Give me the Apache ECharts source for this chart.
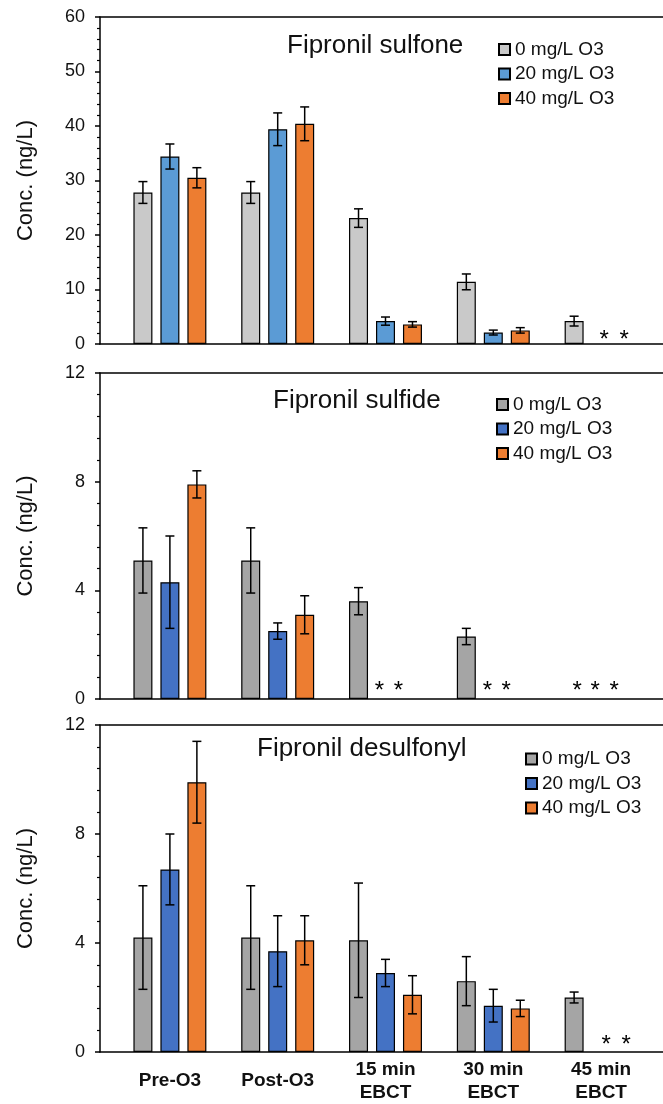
<!DOCTYPE html>
<html>
<head>
<meta charset="utf-8">
<script src="https://cdn.jsdelivr.net/npm/echarts@6/dist/echarts.min.js"></script>
<style>
  html, body { margin: 0; padding: 0; background: #fff; }
  .panel { width: 663px; }
</style>
</head>
<body>
<div id="sulfone" class="panel" style="height: 360px"></div>
<div id="sulfide" class="panel" style="height: 352px"></div>
<div id="desulfonyl" class="panel" style="height: 392px"></div>
<script>
const categories = ["Pre-O3", "Post-O3", "15 min\nEBCT", "30 min\nEBCT", "45 min\nEBCT"];
const seriesNames = ["0 mg/L O3", "20 mg/L O3", "40 mg/L O3"];

// null = not detected, drawn as "*"
const sulfone0 = [27.8, 27.8, 23.1, 11.4, 4.2];
const sulfone20 = [34.4, 39.4, 4.2, 2.1, null];
const sulfone40 = [30.5, 40.4, 3.6, 2.5, null];
const sulfoneErr0 = [2.0, 2.0, 1.7, 1.45, 0.9];
const sulfoneErr20 = [2.3, 3.0, 0.75, 0.45, null];
const sulfoneErr40 = [1.85, 3.1, 0.5, 0.5, null];
const sulfoneTicks = [0, 10, 20, 30, 40, 50, 60];

const sulfide0 = [5.1, 5.1, 3.6, 2.3, null];
const sulfide20 = [4.3, 2.5, null, null, null];
const sulfide40 = [7.9, 3.1, null, null, null];
const sulfideErr0 = [1.2, 1.2, 0.5, 0.3, null];
const sulfideErr20 = [1.7, 0.3, null, null, null];
const sulfideErr40 = [0.5, 0.7, null, null, null];
const sulfideTicks = [0, 4, 8, 12];

const desulfonyl0 = [4.2, 4.2, 4.1, 2.6, 2.0];
const desulfonyl20 = [6.7, 3.7, 2.9, 1.7, null];
const desulfonyl40 = [9.9, 4.1, 2.1, 1.6, null];
const desulfonylErr0 = [1.9, 1.9, 2.1, 0.9, 0.2];
const desulfonylErr20 = [1.3, 1.3, 0.5, 0.6, null];
const desulfonylErr40 = [1.5, 0.9, 0.7, 0.3, null];
const desulfonylTicks = [0, 4, 8, 12];

const fontFamily = '"Liberation Sans", Arial, sans-serif';
const textColor = "#111";
const barWidth = 19;
const barGap = 0.42;

const errorSeries = (values, errs, k) => {
  const shift = (k - 1) * barWidth * (1 + barGap);
  return {
    type: "custom",
    xAxisIndex: 0,
    yAxisIndex: 0,
    silent: true,
    z: 5,
    encode: { x: 0, y: [1, 2] },
    data: values
      .map((v, i) => (v == null ? null : [i, v - errs[i], v + errs[i]]))
      .filter(Boolean),
    renderItem: (params, api) => {
      const lo = api.coord([api.value(0), api.value(1)]);
      const hi = api.coord([api.value(0), api.value(2)]);
      const x = lo[0] + shift;
      const cap = 4.5;
      const style = { stroke: "#000", lineWidth: 1.5 };
      return {
        type: "group",
        children: [
          { type: "line", shape: { x1: x, y1: hi[1], x2: x, y2: lo[1] }, style },
          { type: "line", shape: { x1: x - cap, y1: hi[1], x2: x + cap, y2: hi[1] }, style },
          { type: "line", shape: { x1: x - cap, y1: lo[1], x2: x + cap, y2: lo[1] }, style },
        ],
      };
    },
  };
};

const barSeries = (name, values, color, starShift, starDy) => ({
  name,
  type: "bar",
  xAxisIndex: 0,
  yAxisIndex: 0,
  barWidth,
  barGap: barGap * 100 + "%",
  itemStyle: { color, borderColor: "#000", borderWidth: 1.2 },
  label: {
    show: false,
    position: "top",
    distance: 0,
    offset: [starShift, starDy],
    formatter: "*",
    fontSize: 24,
    color: "#000",
  },
  data: values.map((v) =>
    v == null ? { value: 0, itemStyle: { borderWidth: 0 }, label: { show: true } } : v
  ),
});

const frameLine = { show: true, onZero: false, lineStyle: { color: "#000", width: 1.5 } };

const buildOption = (p) => {
  const minY = p.ticks[0];
  const maxY = p.ticks[p.ticks.length - 1];
  const step = p.ticks[1] - p.ticks[0];
  return {
    animation: false,
    textStyle: { fontFamily },
    title: {
      text: p.title,
      left: p.titleLeft,
      top: p.titleTop,
      padding: 0,
      textStyle: { fontSize: 26, fontWeight: "normal", color: textColor, fontFamily },
    },
    legend: {
      orient: "vertical",
      left: p.legendLeft,
      top: p.legendTop,
      padding: 0,
      itemWidth: 11,
      itemHeight: 11,
      itemGap: 5.5,
      icon: "rect",
      textStyle: { fontSize: 19, color: textColor, fontFamily },
      data: seriesNames,
    },
    grid: [
      { left: 116, right: 8, top: p.top, bottom: p.bottom },
      { left: 100, right: 0, top: p.top, bottom: p.bottom },
    ],
    xAxis: [
      {
        type: "category",
        gridIndex: 0,
        data: categories,
        axisLine: { show: false },
        axisTick: { show: false },
        axisLabel: {
          show: p.showX,
          fontSize: 19,
          fontWeight: "bold",
          color: textColor,
          margin: 29,
          verticalAlign: "middle",
          lineHeight: 23,
          interval: 0,
        },
      },
      {
        type: "value", gridIndex: 1, min: 0, max: 1,
        axisLine: frameLine, axisTick: { show: false },
        axisLabel: { show: false }, splitLine: { show: false },
      },
      {
        type: "value", gridIndex: 1, min: 0, max: 1, position: "top",
        axisLine: frameLine, axisTick: { show: false },
        axisLabel: { show: false }, splitLine: { show: false },
      },
    ],
    yAxis: [
      { type: "value", gridIndex: 0, min: minY, max: maxY, interval: step, show: false },
      {
        type: "value",
        gridIndex: 1,
        min: minY,
        max: maxY,
        interval: step,
        name: "Conc. (ng/L)",
        nameLocation: "middle",
        nameGap: 63,
        nameTextStyle: { fontSize: 22, color: textColor, fontFamily },
        axisLine: frameLine,
        axisTick: { show: true, length: 5, lineStyle: { color: "#000", width: 1.5 } },
        minorTick: { show: true, splitNumber: 5, length: 3, lineStyle: { color: "#000", width: 1.2 } },
        axisLabel: { fontSize: 18, color: textColor, margin: 15 },
        splitLine: { show: false },
      },
    ],
    series: [
      barSeries(seriesNames[0], p.values[0], p.colors[0], p.starShift[0], p.starDy),
      barSeries(seriesNames[1], p.values[1], p.colors[1], p.starShift[1], p.starDy),
      barSeries(seriesNames[2], p.values[2], p.colors[2], p.starShift[2], p.starDy),
      errorSeries(p.values[0], p.errors[0], 0),
      errorSeries(p.values[1], p.errors[1], 1),
      errorSeries(p.values[2], p.errors[2], 2),
    ],
  };
};

const initSulfone = () => {
  const chart = echarts.init(document.getElementById("sulfone"));
  chart.setOption(
    buildOption({
      title: "Fipronil sulfone",
      titleLeft: 287,
      titleTop: 33,
      legendLeft: 498,
      legendTop: 40,
      top: 17,
      bottom: 16,
      showX: false,
      ticks: sulfoneTicks,
      values: [sulfone0, sulfone20, sulfone40],
      errors: [sulfoneErr0, sulfoneErr20, sulfoneErr40],
      colors: ["#C9C9C9", "#5B9BD5", "#ED7D31"],
      starShift: [3, 3, -4],
      starDy: 8,
    })
  );
};

const initSulfide = () => {
  const chart = echarts.init(document.getElementById("sulfide"));
  chart.setOption(
    buildOption({
      title: "Fipronil sulfide",
      titleLeft: 273,
      titleTop: 28,
      legendLeft: 496,
      legendTop: 35,
      top: 13,
      bottom: 13,
      showX: false,
      ticks: sulfideTicks,
      values: [sulfide0, sulfide20, sulfide40],
      errors: [sulfideErr0, sulfideErr20, sulfideErr40],
      colors: ["#A5A5A5", "#4472C4", "#ED7D31"],
      starShift: [3, -6, -14],
      starDy: 4,
    })
  );
};

const initDesulfonyl = () => {
  const chart = echarts.init(document.getElementById("desulfonyl"));
  chart.setOption(
    buildOption({
      title: "Fipronil desulfonyl",
      titleLeft: 257,
      titleTop: 24,
      legendLeft: 525,
      legendTop: 37.5,
      top: 13,
      bottom: 52,
      showX: true,
      ticks: desulfonylTicks,
      values: [desulfonyl0, desulfonyl20, desulfonyl40],
      errors: [desulfonylErr0, desulfonylErr20, desulfonylErr40],
      colors: ["#A5A5A5", "#4472C4", "#ED7D31"],
      starShift: [3, 5, -2],
      starDy: 5,
    })
  );
};

initSulfone();
initSulfide();
initDesulfonyl();
</script>
</body>
</html>
